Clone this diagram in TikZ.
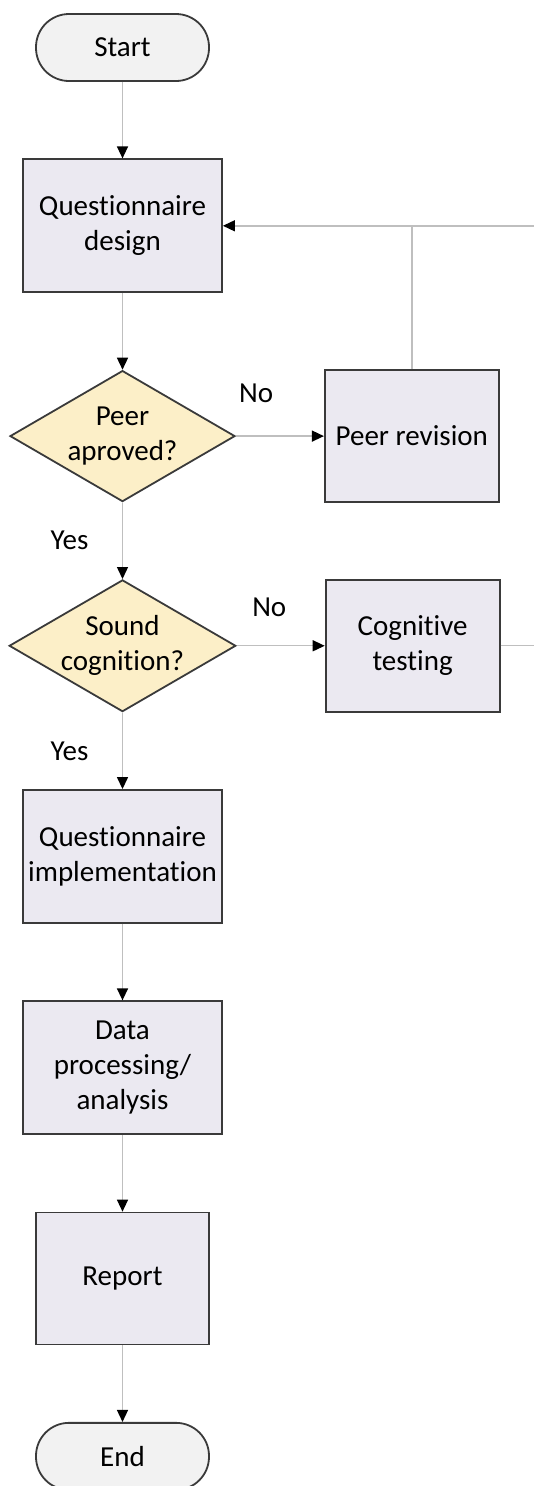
\documentclass[tikz,border=0pt]{standalone}
\usepackage{fontspec}
\setmainfont{Carlito}[Ligatures=NoCommon]
\usepackage{tikz}
\usepackage{xcolor}
\usetikzlibrary{arrows.meta,positioning,shapes.geometric}

\definecolor{termfill}{HTML}{F2F2F2}
\definecolor{procfill}{HTML}{EBE9F1}
\definecolor{decfill}{HTML}{FCEFC8}
\definecolor{linegray}{HTML}{BFBFBF}
\definecolor{bordergray}{HTML}{3A3A3A}

\begin{document}
\begin{tikzpicture}[
  x=1pt, y=1pt,
  node distance=76.5pt and 88pt,
  every node/.style={font=\fontsize{29}{35}\selectfont},
  terminal/.style={draw=bordergray, line width=1.8pt, fill=termfill, rounded corners=33pt, minimum width=173pt, minimum height=67pt, inner sep=0pt},
  proc/.style={draw=bordergray, line width=1.8pt, fill=procfill, align=center, minimum width=199pt, minimum height=133pt, inner sep=0pt},
  decision/.style={diamond, draw=bordergray, line width=1.8pt, fill=decfill, align=center, aspect=1.72, minimum width=225pt, minimum height=131pt, inner sep=0pt},
  flow/.style={draw=linegray, line width=1.4pt, -{Triangle[black, length=12pt, width=11pt]}},
  link/.style={draw=linegray, line width=1.4pt}
]
  \useasboundingbox (0,0) rectangle (533,-1486);
  \node[terminal] (start) at (122.5,-47.5) {Start};
  \node[proc, below=of start] (design) {Questionnaire\\design};
  \node[decision, below=of design] (peer) {Peer\\aproved?};
  \node[proc, right=of peer, minimum width=174pt, minimum height=132pt] (peerrev) {Peer revision};
  \node[decision, below=of peer] (sound) {Sound\\cognition?};
  \node[proc, right=of sound, minimum width=174pt, minimum height=132pt] (cogtest) {Cognitive\\testing};
  \node[proc, below=of sound] (implement) {Questionnaire\\implementation};
  \node[proc, below=of implement] (dataproc) {Data\\processing/\\analysis};
  \node[proc, below=of dataproc, minimum width=173pt, minimum height=132pt] (report) {Report};
  \node[terminal, below=of report] (end) {End};
  \coordinate (rim) at (536,0);
  \draw[flow] (start) -- (design);
  \draw[flow] (design) -- (peer);
  \draw[flow] (peer) -- node[pos=0.23, yshift=43pt] {No} (peerrev);
  \draw[flow] (peer) -- node[midway, left=30pt] {Yes} (sound);
  \draw[flow] (sound) -- node[pos=0.37, yshift=38pt] {No} (cogtest);
  \draw[flow] (sound) -- node[midway, left=30pt] {Yes} (implement);
  \draw[flow] (implement) -- (dataproc);
  \draw[flow] (dataproc) -- (report);
  \draw[flow] (report) -- (end);
  \draw[link] (cogtest.east) -- (cogtest.east -| rim);
  \draw[link] (peerrev.north) -- (peerrev.north |- design.east);
  \draw[flow] (design.east -| rim) -- (design.east);
\end{tikzpicture}
\end{document}
